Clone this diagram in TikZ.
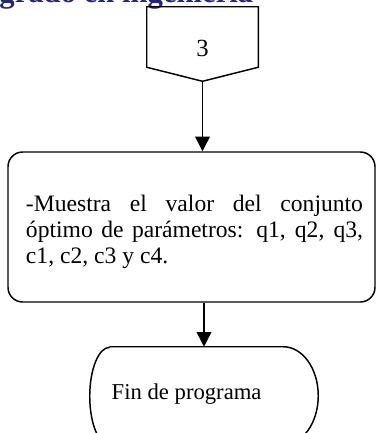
\documentclass[tikz,border=0pt]{standalone}
\usepackage{fontspec}
\setmainfont{Liberation Serif}
\usetikzlibrary{arrows.meta}
\definecolor{bleuTitre}{RGB}{36,40,112}
\tikzset{
	trait/.style={line width=1.1pt},
	fleche/.style={trait,-{Triangle[length=11pt,width=11pt]}},
	texte/.style={font=\fontsize{17pt}{18.4pt}\selectfont},
	boite/.style={trait,draw,rounded corners=11pt,minimum width=275.25pt,
		minimum height=112.5pt,inner sep=0pt},
	paragraphe/.style={font=\fontsize{17.7pt}{19.6pt}\selectfont,text width=252.75pt,
		align=justify,inner sep=0pt},
	cadre/.style={minimum width=83.25pt,minimum height=55.5pt,inner sep=0pt},
	terminal/.style={minimum width=171pt,minimum height=73.5pt,inner sep=0pt},
}
\newcommand{\renvoi}[1]{\draw[trait] (#1.north west) -- (#1.north east)
	-- ([yshift=10.5pt]#1.south east) -- (#1.south)
	-- ([yshift=10.5pt]#1.south west) -- cycle}
\newcommand{\bout}[1]{\draw[trait] ([xshift=15pt]#1.north west)
	-- ([xshift=-26.25pt]#1.north east)
	arc[start angle=90,end angle=-90,x radius=26.25pt,y radius=36.75pt]
	-- ([xshift=15pt]#1.south west)
	arc[start angle=270,end angle=90,x radius=15pt,y radius=36.75pt]}

\begin{document}
\begin{tikzpicture}[x=0.75pt,y=-0.75pt]
	\useasboundingbox (0,0) rectangle (377,433);
	\clip (0,0) rectangle (377,433);
%Heading cut by the page
	\node[anchor=base east,text=bleuTitre,font=\fontsize{23pt}{26pt}\selectfont\bfseries]
		(titre) at (258,2.5) {grado en ingeniería};
%Off-page connector
	\node[cadre] (renvoi) at (202.5,44) {};
	\renvoi{renvoi};
	\node[font=\fontsize{18.5pt}{20pt}\selectfont] (numero) at (202.5,48) {3};
%Process box
	\node[boite] (muestra) at (191.5,227) {};
	\node[paragraphe] (muestraTexte) at (194.5,231.5) {-Muestra el valor del conjunto\linebreak
		óptimo de parámetros: q1, q2, q3,\linebreak c1, c2, c3 y c4.};
%End of program
	\node[terminal] (fin) at (204,396) {};
	\bout{fin};
	\node[texte,anchor=base west] (finTexte) at (107,399) {Fin de programa};
%Arrows
	\draw[fleche] (renvoi.south) -- (renvoi.south |- muestra.north);
	\draw[fleche] (muestra.south -| fin.north) -- (fin.north);
\end{tikzpicture}
\end{document}
